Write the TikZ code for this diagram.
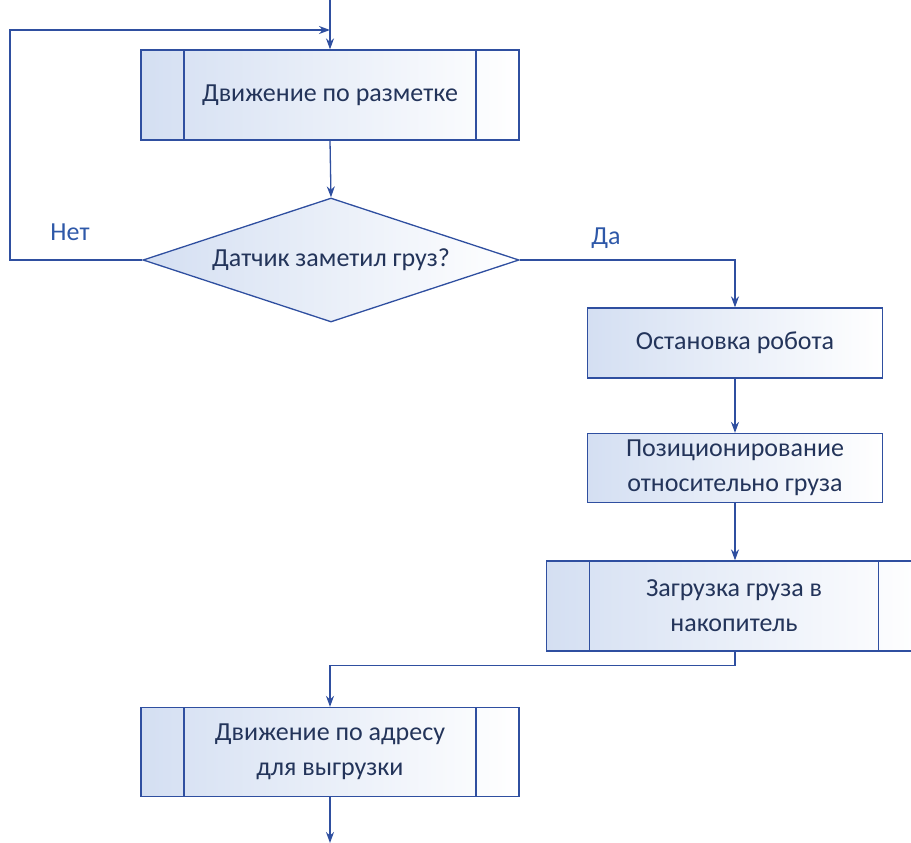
\documentclass[tikz,border=0pt]{standalone}
\usepackage{fontspec}
\setmainfont{Carlito}
\usetikzlibrary{shapes.geometric,arrows.meta}

\definecolor{flowline}{RGB}{47,79,160}
\definecolor{flowtext}{RGB}{35,52,90}
\definecolor{flowlbl}{RGB}{46,88,168}
\definecolor{flowfill}{RGB}{212,223,242}

\begin{document}
\begin{tikzpicture}[
	x=1pt, y=-1pt,
	box/.style={
		draw=flowline, line width=1.3pt,
		left color=flowfill, right color=white,
		align=center, font=\fontsize{26}{35}\selectfont, text=flowtext,
		inner sep=0pt
	},
	subproc/.style={
		box,
		path picture={
			\draw[flowline, line width=1.3pt]
				([xshift=43pt]path picture bounding box.north west) --
				([xshift=43pt]path picture bounding box.south west);
			\draw[flowline, line width=1.3pt]
				([xshift=-43pt]path picture bounding box.north east) --
				([xshift=-43pt]path picture bounding box.south east);
		}
	},
	decision/.style={
		box, shape=diamond, aspect=3
	},
	arr/.style={-{Stealth[length=11pt,width=8pt]}, draw=flowline, line width=1.3pt},
	lbl/.style={font=\fontsize{26}{30}\selectfont, text=flowlbl}
]
\useasboundingbox (0,0) rectangle (911,843);

\node[subproc, minimum width=378pt, minimum height=90pt] (move)   at (330, 95)  {Движение по разметке};
\node[decision, minimum width=376pt, minimum height=124pt] (sensor) at (331, 260) {Датчик заметил груз?};
\node[box, minimum width=295pt, minimum height=70pt]     (stop)   at (735, 343) {Остановка робота};
\node[box, minimum width=295pt, minimum height=69pt]     (pos)    at (735, 468) {Позиционирование\\относительно груза};
\node[subproc, minimum width=375pt, minimum height=90pt] (load)   at (734, 606) {Загрузка груза в\\накопитель};
\node[subproc, minimum width=378pt, minimum height=89pt] (unload) at (330, 752) {Движение по адресу\\для выгрузки};

\coordinate (entry) at (330, 0);
\coordinate (merge) at (330, 30);
\coordinate (exit)  at (330, 843);

\draw[arr] (entry) -- (move.north);
\draw[arr] (move.south) -- (sensor.north);
\draw[arr] (sensor.west) -- (10, 260) -- (10, 30) -- (merge);
\draw[arr] (sensor.east) -| (stop.north);
\draw[arr] (stop.south) -- (pos.north);
\draw[arr] (pos.south) -- (load.north -| pos.south);
\draw[arr] (load.south -| pos.south) -- ++(0, 14) -| (unload.north);
\draw[arr] (unload.south) -- (exit);

\node[lbl] (no)  at (70, 232)  {Нет};
\node[lbl] (yes) at (606, 238) {Да};

\end{tikzpicture}
\end{document}
